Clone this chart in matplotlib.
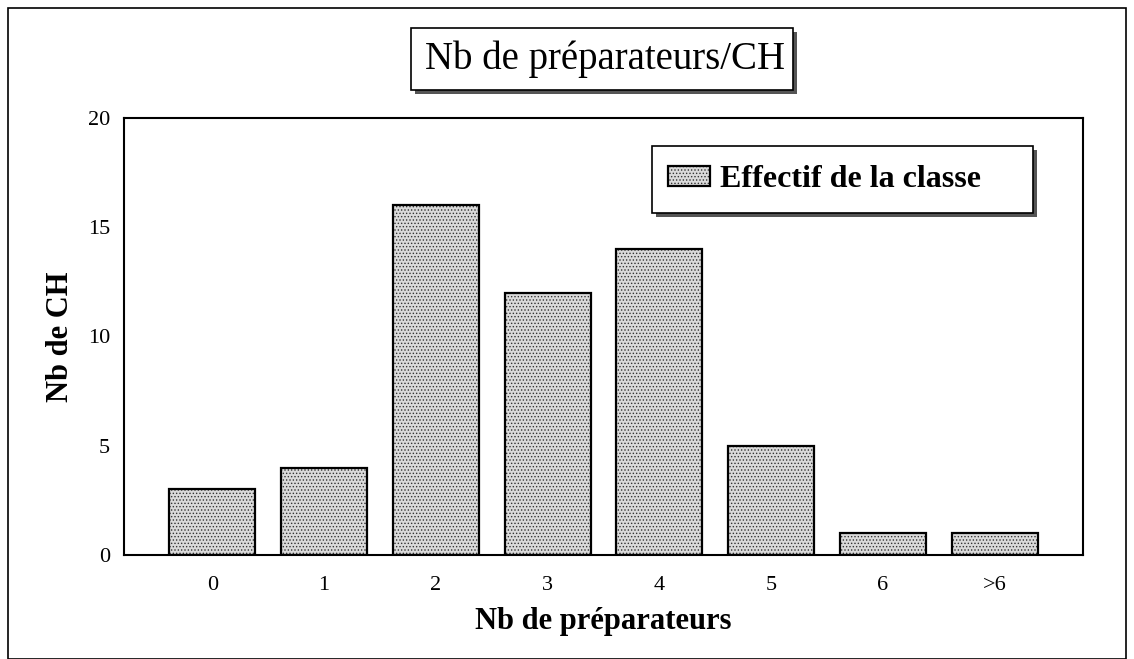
import matplotlib.pyplot as plt
from matplotlib.patches import Rectangle
import numpy as np

categories = ['0', '1', '2', '3', '4', '5', '6', '>6']
effectif = [3, 4, 16, 12, 14, 5, 1, 1]

plt.rcParams['font.family'] = ['Liberation Serif', 'DejaVu Serif']
plt.rcParams['hatch.linewidth'] = 0.6

fig = plt.figure(figsize=(11.34, 6.59), dpi=100)
W, H = 1134, 659

def px(x0, y0, x1, y1):
    # pixel box -> figure fraction rect
    return (x0 / W, 1 - y1 / H, (x1 - x0) / W, (y1 - y0) / H)

# outer frame
fig.patches.append(Rectangle((8 / W, 0), 1 - 16 / W, 1 - 8 / H, transform=fig.transFigure,
                             fill=False, edgecolor='black', lw=1.2))

ax = fig.add_axes([124 / W, 1 - 555 / H, (1083 - 124) / W, (555 - 118) / H])
x = np.arange(len(categories))
bars = ax.bar(x, effectif, width=0.77, facecolor='#dadada', edgecolor='black',
              linewidth=1.6, hatch='.....', label='Effectif de la classe')
for b in bars:
    b._hatch_color = (0.2, 0.2, 0.2, 1)
ax.set_xlim(-0.79, 7.79)
ax.set_ylim(0, 20)
ax.set_yticks([0, 5, 10, 15, 20])
ax.set_xticks(x)
ax.set_xticklabels(categories)
ax.tick_params(length=0, labelsize=16)
ax.tick_params(axis='x', pad=15)
ax.tick_params(axis='y', pad=10)
for s in ax.spines.values():
    s.set_linewidth(1.5)

ax.set_xlabel('Nb de préparateurs', fontsize=22, fontweight='bold', labelpad=9)
ax.set_ylabel('Nb de CH', fontsize=22, fontweight='bold', labelpad=9)

# title box with shadow
r = px(411, 28, 793, 90)
fig.patches.append(Rectangle((r[0] + 4 / W, r[1] - 4 / H), r[2], r[3], transform=fig.transFigure,
                             facecolor='#555555', edgecolor='none', hatch='....'))
fig.patches.append(Rectangle(r[:2], r[2], r[3], transform=fig.transFigure,
                             facecolor='white', edgecolor='black', lw=1.2))
fig.text(r[0] + r[2] / 2 + 3 / W, r[1] + r[3] / 2, 'Nb de préparateurs/CH', fontsize=28,
         ha='center', va='center')

# legend box with shadow
r = px(652, 146, 1033, 213)
fig.patches.append(Rectangle((r[0] + 4 / W, r[1] - 4 / H), r[2], r[3], transform=fig.transFigure,
                             facecolor='#555555', edgecolor='none', hatch='....'))
fig.patches.append(Rectangle(r[:2], r[2], r[3], transform=fig.transFigure,
                             facecolor='white', edgecolor='black', lw=1.2))
leg = fig.legend(handles=[bars[0]], labels=['Effectif de la classe'], loc='center',
                 bbox_to_anchor=(r[0] + r[2] / 2 - 18 / W, r[1] + r[3] / 2), bbox_transform=fig.transFigure,
                 frameon=False, prop={'size': 23, 'weight': 'bold'}, handlelength=1.3,
                 handleheight=0.6, handletextpad=0.3)
leg.set_zorder(10)

fig.savefig('out.png', dpi=100)
